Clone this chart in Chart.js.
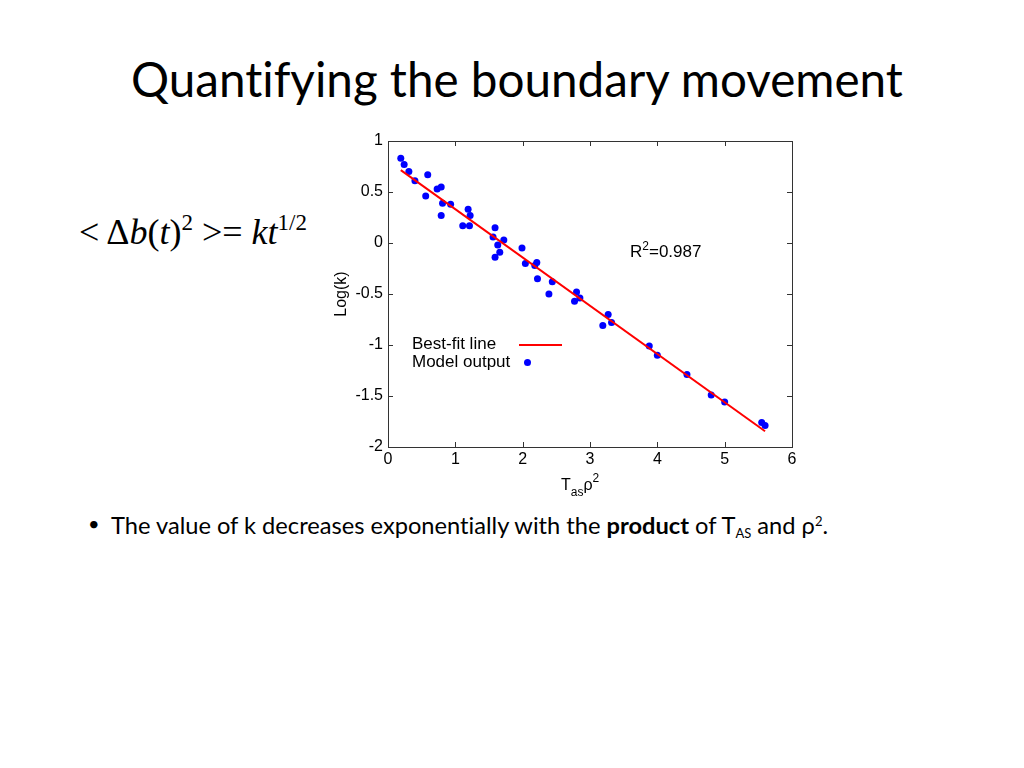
<!DOCTYPE html>
<html>
<head>
<meta charset="utf-8">
<script src="https://cdn.jsdelivr.net/npm/chart.js@4/dist/chart.umd.min.js"></script>
<style>
  html, body { margin: 0; padding: 0; background: #fff; }
  body { width: 1024px; height: 768px; position: relative; overflow: hidden; font-family: Lato, "Open Sans", sans-serif; font-variant-ligatures: none; }
  .abs { position: absolute; white-space: nowrap; }
  #title { left: 131px; top: 55px; font-size: 44px; line-height: 1; color: #000; }
  #eq { left: 79px; top: 211px; font-family: "Liberation Serif", "DejaVu Serif", serif; font-size: 36px; line-height: 1; }
  #eq sup { font-size: 23px; vertical-align: 14px; }
  #plot { left: 320px; top: 131px; width: 480px; height: 370px; }
  .mat { font-family: "Liberation Sans", Arial, sans-serif; color: #000; }
  #xlab { left: 561px; top: 472px; font-size: 16px; line-height: 1; }
  #xlab sub { font-size: 12px; vertical-align: -6px; }
  #xlab sup { font-size: 12px; vertical-align: 8px; }
  #r2 { left: 630px; top: 240px; font-size: 17px; line-height: 1; }
  #r2 sup { font-size: 12px; vertical-align: 7px; }
  #legend { left: 412px; top: 335px; font-size: 17px; line-height: 18px; }
  #legend .row { position: relative; height: 18px; }
  #legend .swl { position: absolute; left: 107px; top: 9px; width: 43px; height: 0; border-top: 2px solid #ff0000; }
  #legend .swd { position: absolute; left: 112px; top: 6px; width: 7px; height: 7px; border-radius: 50%; background: #0000ff; }
  #dot { left: 88px; top: 511px; font-size: 20px; line-height: 1.2; }
  #bullet { left: 111px; top: 511px; font-size: 20px; line-height: 1.2; }
  #bullet sub { font-size: 13px; vertical-align: -4px; }
  #bullet sup { font-size: 13px; vertical-align: 8px; }
</style>
</head>
<body>
<div id="title" class="abs">Quantifying the boundary movement</div>
<div id="eq" class="abs">&lt; &Delta;<i>b</i>(<i>t</i>)<sup>2</sup> &gt;= <i>kt</i><sup>1/2</sup></div>
<div id="plot" class="abs"><canvas id="chart"></canvas></div>
<div id="xlab" class="abs mat">T<sub>as</sub>&rho;<sup>2</sup></div>
<div id="r2" class="abs mat">R<sup>2</sup>=0.987</div>
<div id="legend" class="abs mat">
  <div class="row">Best-fit line<span class="swl"></span></div>
  <div class="row">Model output<span class="swd"></span></div>
</div>
<div id="dot" class="abs">&bull;</div>
<div id="bullet" class="abs">The value of k decreases exponentially with the <b>product</b> of T<sub>AS</sub> and &rho;<sup>2</sup>.</div>

<script>
/* --- data --- */
const modelX = [0.19, 0.24, 0.31, 0.40, 0.59, 0.56, 0.73, 0.79, 0.81, 0.79,
                0.93, 1.19, 1.22, 1.11, 1.21, 1.59, 1.56, 1.63, 1.72, 1.66,
                1.59, 1.99, 2.04, 2.18, 2.21, 2.22, 2.44, 2.39, 2.80, 2.77,
                2.85, 3.27, 3.19, 3.32, 3.88, 4.00, 4.44, 4.80, 5.00, 5.55,
                5.60];
const modelY = [0.83, 0.77, 0.70, 0.61, 0.67, 0.46, 0.53, 0.55, 0.39, 0.27,
                0.38, 0.33, 0.27, 0.17, 0.17, 0.15, 0.06, -0.02, 0.03, -0.09,
                -0.14, -0.05, -0.20, -0.22, -0.19, -0.35, -0.38, -0.50, -0.48, -0.57,
                -0.54, -0.70, -0.81, -0.78, -1.01, -1.10, -1.29, -1.49, -1.56, -1.76,
                -1.79];
const fitX = [0.19, 5.60];
const fitY = [0.714, -1.845];

const xTicks = [0, 1, 2, 3, 4, 5, 6];
const yTicks = [1, 0.5, 0, -0.5, -1, -1.5, -2];
const xTickLabels = ['0', '1', '2', '3', '4', '5', '6'];
const yTickLabels = ['1', '0.5', '0', '-0.5', '-1', '-1.5', '-2'];

/* --- fit slide text to the measured widths --- */
function fitWidth(id, target) {
  const el = document.getElementById(id);
  const size = parseFloat(getComputedStyle(el).fontSize);
  el.style.fontSize = (size * target / el.getBoundingClientRect().width) + 'px';
}
fitWidth('title', 772);
fitWidth('bullet', 722);

/* --- box with inward ticks, MATLAB style --- */
const frame = {
  id: 'frame',
  afterDatasetsDraw(chart) {
    const { ctx, chartArea: a, scales } = chart;
    const t = 5;
    ctx.save();
    ctx.strokeStyle = '#333';
    ctx.lineWidth = 1;
    ctx.beginPath();
    xTicks.forEach(v => {
      const px = Math.round(scales.x.getPixelForValue(v)) + 0.5;
      ctx.moveTo(px, a.bottom); ctx.lineTo(px, a.bottom - t);
      ctx.moveTo(px, a.top); ctx.lineTo(px, a.top + t);
    });
    yTicks.forEach(v => {
      const py = Math.round(scales.y.getPixelForValue(v)) + 0.5;
      ctx.moveTo(a.left, py); ctx.lineTo(a.left + t, py);
      ctx.moveTo(a.right, py); ctx.lineTo(a.right - t, py);
    });
    ctx.stroke();
    ctx.strokeRect(Math.round(a.left) + 0.5, Math.round(a.top) + 0.5,
                   Math.round(a.right - a.left), Math.round(a.bottom - a.top));
    ctx.restore();
  }
};

const tickFont = { family: "'Liberation Sans', Arial, sans-serif", size: 16 };

new Chart(document.getElementById('chart'), {
  type: 'scatter',
  data: {
    datasets: [
      {
        label: 'Best-fit line',
        data: fitX.map((x, i) => ({ x: x, y: fitY[i] })),
        showLine: true,
        borderColor: '#ff0000',
        borderWidth: 2,
        pointRadius: 0,
        order: 0
      },
      {
        label: 'Model output',
        data: modelX.map((x, i) => ({ x: x, y: modelY[i] })),
        backgroundColor: '#0000ff',
        borderWidth: 0,
        pointRadius: 3.5,
        order: 1
      }
    ]
  },
  options: {
    responsive: true,
    maintainAspectRatio: false,
    animation: false,
    layout: { padding: { top: 10, right: 8, left: 0, bottom: 0 } },
    plugins: { legend: { display: false }, tooltip: { enabled: false } },
    scales: {
      x: {
        type: 'linear', min: 0, max: 6,
        afterBuildTicks: s => { s.ticks = xTicks.map(v => ({ value: v })); },
        afterFit: s => { s.height = 54; s.paddingLeft = 0; s.paddingRight = 0; },
        grid: { display: false, drawTicks: false },
        border: { display: false },
        ticks: {
          font: tickFont, color: '#000', padding: 3, maxRotation: 0,
          callback: (v) => xTickLabels[xTicks.indexOf(v)]
        }
      },
      y: {
        type: 'linear', min: -2, max: 1,
        afterBuildTicks: s => { s.ticks = yTicks.map(v => ({ value: v })); },
        afterFit: s => { s.width = 68; s.paddingTop = 0; s.paddingBottom = 0; },
        grid: { display: false, drawTicks: false },
        border: { display: false },
        title: {
          display: true, text: 'Log(k)', color: '#000',
          font: { family: "'Liberation Sans', Arial, sans-serif", size: 16 },
          padding: { top: 12, bottom: 0 }
        },
        ticks: {
          font: tickFont, color: '#000', padding: 5,
          callback: (v) => yTickLabels[yTicks.indexOf(v)]
        }
      }
    }
  },
  plugins: [frame]
});
</script>
</body>
</html>
